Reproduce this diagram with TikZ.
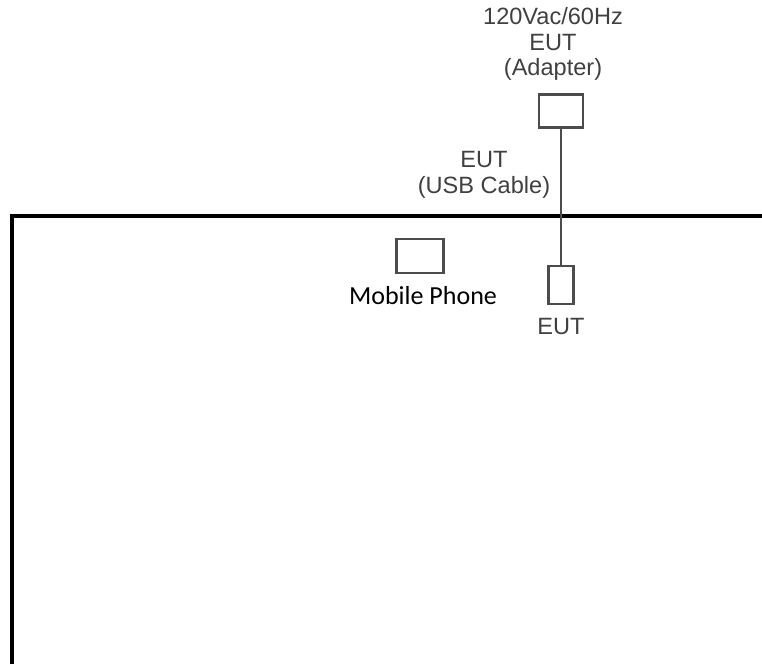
\documentclass[tikz,border=0pt]{standalone}
\usepackage{fontspec}
\setmainfont{Liberation Sans}
\newfontfamily\calfont{Carlito}
\tikzset{unit/.style={draw=black!70,line width=.6pt,inner sep=0pt},
  lbl/.style={text=black!75,align=center,inner sep=0pt,font=\fontsize{6.7}{7.3}\selectfont}}
\begin{document}
\begin{tikzpicture}[x=0.01cm,y=-0.01cm]
\useasboundingbox (0,0) rectangle (762,664);
\draw[line width=1.4pt] (12,664)--(12,216)--(762,216); % table edge
\node[unit,minimum width=0.44cm,minimum height=0.33cm] (adapter) at (561,111){};
\node[unit,minimum width=0.25cm,minimum height=0.38cm] (eut) at (561,285){};
\node[unit,minimum width=0.47cm,minimum height=0.34cm] (phone) at (420,256){};
\draw[black!70,line width=.6pt] (adapter.south)--(eut.north);
\node[lbl] (adlbl) at (553,44){120Vac/60Hz\\EUT\\(Adapter)};
\node[lbl] (cablelbl) at (484,175){EUT\\(USB Cable)};
\node[lbl] (eutlbl) at (561,327){EUT};
\node[inner sep=0pt,font=\calfont\fontsize{7.4}{8}\selectfont] (phonelbl) at (423,296){Mobile Phone};
\end{tikzpicture}
\end{document}
